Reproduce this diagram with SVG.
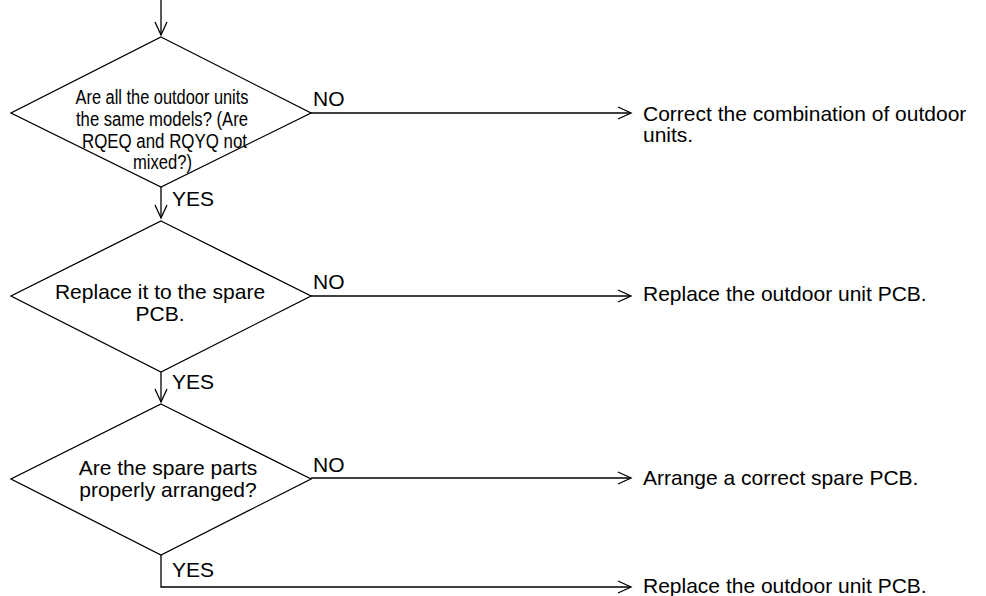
<svg xmlns="http://www.w3.org/2000/svg" width="986" height="596" viewBox="0 0 986 596">
<style>
.shape{fill:none;stroke:#000;stroke-width:1.3}
.conn{fill:none;stroke:#000;stroke-width:1.3}
text{font-family:"Liberation Sans",Arial,Helvetica,sans-serif;font-size:21px;fill:#000}
.m{text-anchor:middle}
.c{font-size:20px}
</style>
<defs>
<marker id="arr" markerUnits="userSpaceOnUse" markerWidth="18" markerHeight="18" viewBox="-15 -9 18 18" refX="0" refY="0" orient="auto">
<path d="M-13,-6 L0,0 L-13,6" fill="none" stroke="#000" stroke-width="1.3"/>
</marker>
</defs>
<rect width="986" height="596" fill="#fff"/>
<g id="connectors">
<path class="conn" d="M161,0 V35" marker-end="url(#arr)"/>
<path class="conn" d="M161,187 V218" marker-end="url(#arr)"/>
<path class="conn" d="M161,372 V402" marker-end="url(#arr)"/>
<path class="conn" d="M311,113 H631" marker-end="url(#arr)"/>
<path class="conn" d="M311,296 H631" marker-end="url(#arr)"/>
<path class="conn" d="M311,478 H631" marker-end="url(#arr)"/>
<path class="conn" d="M161,555 V587 H631" marker-end="url(#arr)"/>
<text x="313" y="106">NO</text>
<text x="313" y="289">NO</text>
<text x="313" y="472">NO</text>
<text x="172" y="206">YES</text>
<text x="172" y="389">YES</text>
<text x="172" y="577">YES</text>
</g>
<g id="d1">
<polygon class="shape" points="161,37 311,113 161,187 11,113"/>
<text class="m c" x="162" y="103.5" textLength="173" lengthAdjust="spacingAndGlyphs">Are all the outdoor units</text>
<text class="m c" x="162" y="125.5" textLength="172" lengthAdjust="spacingAndGlyphs">the same models? (Are</text>
<text class="m c" x="164.5" y="147.5" textLength="165" lengthAdjust="spacingAndGlyphs">RQEQ and RQYQ not</text>
<text class="m c" x="162.5" y="169" textLength="59" lengthAdjust="spacingAndGlyphs">mixed?)</text>
</g>
<g id="d2">
<polygon class="shape" points="161,221 311,296 161,372 11,296"/>
<text class="m" x="160" y="299">Replace it to the spare</text>
<text class="m" x="160" y="320.5">PCB.</text>
</g>
<g id="d3">
<polygon class="shape" points="161,404 311,479 161,555 11,479"/>
<text class="m" x="168" y="475">Are the spare parts</text>
<text class="m" x="168" y="497">properly arranged?</text>
</g>
<g id="r1">
<text x="643" y="121">Correct the combination of outdoor</text>
<text x="643" y="142">units.</text>
</g>
<g id="r2">
<text x="643" y="301">Replace the outdoor unit PCB.</text>
</g>
<g id="r3">
<text x="643" y="485">Arrange a correct spare PCB.</text>
</g>
<g id="r4">
<text x="643" y="593">Replace the outdoor unit PCB.</text>
</g>
</svg>
